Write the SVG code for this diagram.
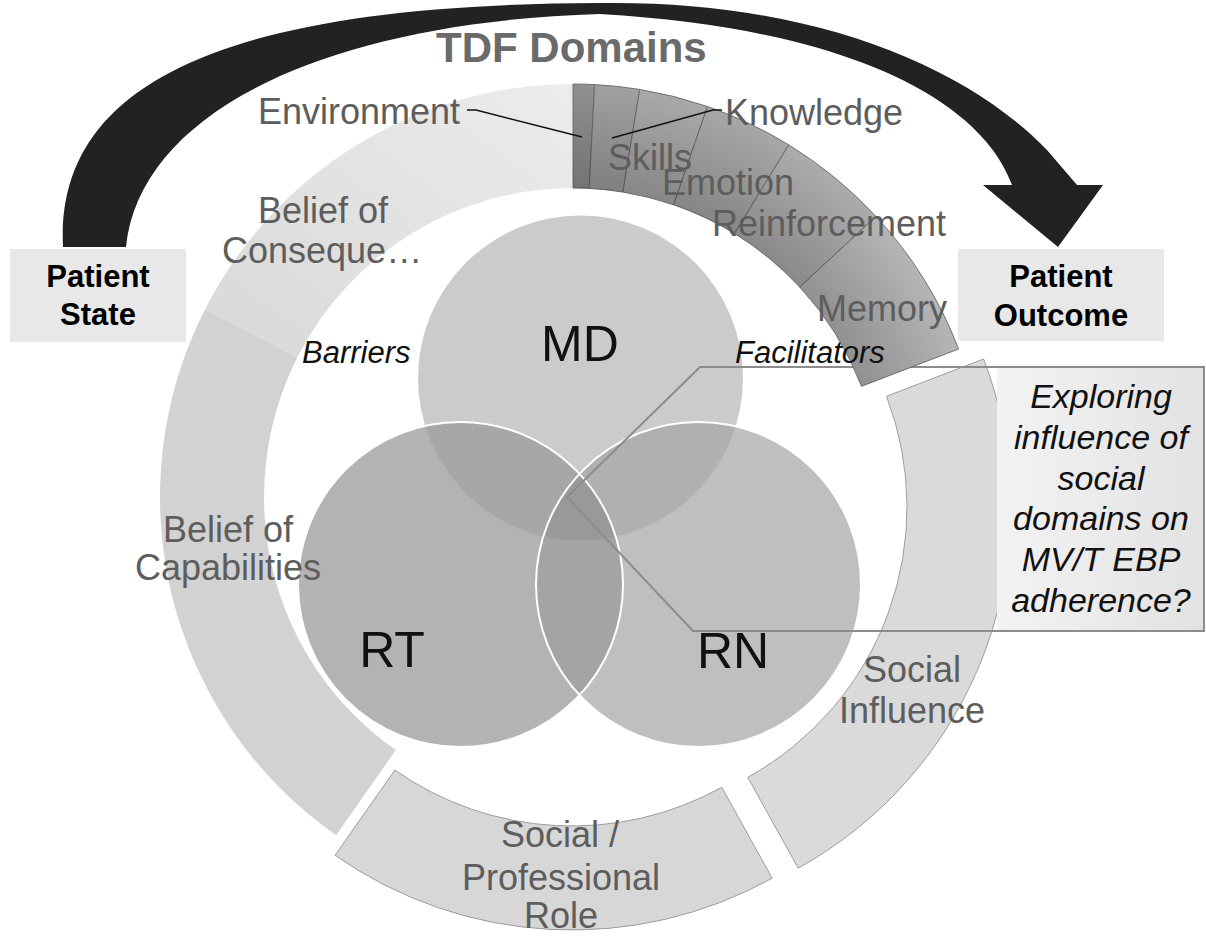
<svg xmlns="http://www.w3.org/2000/svg" width="1206" height="940" viewBox="0 0 1206 940">
<style>
.lbl{font-family:"Liberation Sans",Arial,sans-serif;font-size:36px;fill:#5d5d5d}
.big{font-family:"Liberation Sans",Arial,sans-serif;font-size:50px;fill:#111}
.it{font-family:"Liberation Sans",Arial,sans-serif;font-size:31px;font-style:italic;fill:#111}
.co{font-family:"Liberation Sans",Arial,sans-serif;font-size:34px;font-style:italic;fill:#111;text-anchor:middle}
.pb{font-family:"Liberation Sans",Arial,sans-serif;font-size:31px;font-weight:bold;fill:#000;text-anchor:middle}
.pbox{fill:#e8e8e8}
.seg{stroke:#9c9c9c;stroke-width:1}
.dk{stroke:#666;stroke-width:0.9}
.lead{stroke:#111;stroke-width:1.5;fill:none}
</style>
<defs>
<radialGradient id="shade" gradientUnits="userSpaceOnUse" cx="573" cy="497" r="413">
<stop offset="0.748" stop-color="#000" stop-opacity="0.2"/>
<stop offset="1" stop-color="#000" stop-opacity="0"/>
</radialGradient>
<linearGradient id="bco" x1="0" y1="1" x2="1" y2="0">
<stop offset="0" stop-color="#d8d8d8"/>
<stop offset="1" stop-color="#ececec"/>
</linearGradient>
<linearGradient id="cbox" x1="0" y1="0" x2="1" y2="0">
<stop offset="0" stop-color="#f3f3f3"/>
<stop offset="1" stop-color="#e2e2e2"/>
</linearGradient>
<clipPath id="cRT"><circle cx="460.5" cy="584.5" r="162.5"/></clipPath>
<clipPath id="cRN"><circle cx="698.5" cy="584.5" r="162.5"/></clipPath>
</defs>
<rect width="1206" height="940" fill="#fff"/>

<g id="arrow">
<path d="M 63,247 C 55,80 230,4 600,3 C 800,0 960,60 1047,150 L 1077,185 L 1103,185 L 1058,247 L 983,185 L 1012,185 C 985,110 870,30 600,14 C 330,22 140,110 126,247 Z" fill="#222"/>
</g>

<g id="patient-state">
<rect class="pbox" x="10" y="249" width="176" height="93"/>
<text class="pb" x="98" y="287">Patient</text>
<text class="pb" x="98" y="325">State</text>
</g>
<g id="patient-outcome">
<rect class="pbox" x="958" y="249" width="206" height="92"/>
<text class="pb" x="1061" y="287">Patient</text>
<text class="pb" x="1061" y="326">Outcome</text>
</g>

<g id="title"><text x="436" y="62" style="font-family:'Liberation Sans',Arial,sans-serif;font-size:42px;font-weight:bold;fill:#6a6a6a">TDF Domains</text></g>

<g id="seg-belief-capabilities">
<path d="M 336.1,835.3 A 413 413 0 0 1 205.0,309.5 L 297.7,356.7 A 309 309 0 0 0 395.8,750.1 Z" fill="#d2d2d2"/>
</g>
<g id="seg-belief-consequences">
<path d="M 205.0,309.5 A 413 413 0 0 1 573,84 L 573,188 A 309 309 0 0 0 297.7,356.7 Z" fill="url(#bco)"/>
</g>
<g id="seg-social-professional" transform="translate(-1,20)">
<path class="seg" d="M 773.2,858.2 A 413 413 0 0 1 336.1,835.3 L 395.8,750.1 A 309 309 0 0 0 722.8,767.3 Z" fill="#d7d7d7"/>
</g>
<g id="seg-social-influence" transform="translate(25,10)">
<path class="seg" d="M 958.6,349.0 A 413 413 0 0 1 773.2,858.2 L 722.8,767.3 A 309 309 0 0 0 861.5,386.3 Z" fill="#dadada"/>
</g>

<g id="node-md"><circle cx="580.5" cy="378" r="162.5" fill="#cbcbcb"/></g>
<g id="node-rt"><circle cx="460.5" cy="584.5" r="162.5" fill="#b3b3b3"/></g>
<g id="node-rn"><circle cx="698.5" cy="584.5" r="162.5" fill="#bfbfbf"/></g>
<g id="overlaps">
<circle cx="580.5" cy="378" r="162.5" fill="#a7a7a7" clip-path="url(#cRT)"/>
<circle cx="580.5" cy="378" r="162.5" fill="#b0b0b0" clip-path="url(#cRN)"/>
<circle cx="460.5" cy="584.5" r="162.5" fill="#a4a4a4" clip-path="url(#cRN)"/>
<g clip-path="url(#cRN)"><circle cx="580.5" cy="378" r="162.5" fill="#999" clip-path="url(#cRT)"/></g>
<circle cx="698.5" cy="584.5" r="162.5" fill="none" stroke="#fff" stroke-width="2"/>
<circle cx="460.5" cy="584.5" r="162.5" fill="none" stroke="#fff" stroke-width="2"/>
</g>

<g id="callout">
<rect x="997" y="367" width="207" height="264" fill="url(#cbox)"/>
<path d="M 1204,367 L 700,367 L 567,497 L 693,631 L 1204,631 Z" fill="none" stroke="#8c8c8c" stroke-width="2" stroke-linejoin="miter"/>
<text class="co" x="1101" y="408">Exploring</text>
<text class="co" x="1101" y="449">influence of</text>
<text class="co" x="1101" y="490">social</text>
<text class="co" x="1101" y="530">domains on</text>
<text class="co" x="1101" y="571">MV/T EBP</text>
<text class="co" x="1101" y="612">adherence?</text>
</g>

<g id="seg-environment"><path class="dk" d="M 573,84 A 413 413 0 0 1 594.6,84.6 L 589.2,188.4 A 309 309 0 0 0 573,188 Z" fill="#909090"/></g>
<g id="seg-knowledge"><path class="dk" d="M 594.6,84.6 A 413 413 0 0 1 639.7,89.4 L 622.9,192.1 A 309 309 0 0 0 589.2,188.4 Z" fill="#a0a0a0"/></g>
<g id="seg-skills"><path class="dk" d="M 639.7,89.4 A 413 413 0 0 1 707.5,106.5 L 673.6,204.8 A 309 309 0 0 0 622.9,192.1 Z" fill="#a9a9a9"/></g>
<g id="seg-emotion"><path class="dk" d="M 707.5,106.5 A 413 413 0 0 1 788.8,144.9 L 734.5,233.5 A 309 309 0 0 0 673.6,204.8 Z" fill="#a7a7a7"/></g>
<g id="seg-reinforcement"><path class="dk" d="M 788.8,144.9 A 413 413 0 0 1 876.0,216.4 L 799.7,287.1 A 309 309 0 0 0 734.5,233.5 Z" fill="#acacac"/></g>
<g id="seg-memory"><path class="dk" d="M 876.0,216.4 A 413 413 0 0 1 958.6,349.0 L 861.5,386.3 A 309 309 0 0 0 799.7,287.1 Z" fill="#b5b5b5"/></g>
<path d="M 573,84 A 413 413 0 0 1 958.6,349 L 861.5,386.3 A 309 309 0 0 0 573,188 Z" fill="url(#shade)"/>

<g id="connectors">
<polyline class="lead" points="467,110 476,110 582,137"/>
<polyline class="lead" points="722,110 713,110 612,138"/>
</g>

<g id="labels">
<text class="lbl" x="258" y="124">Environment</text>
<text class="lbl" x="725" y="125">Knowledge</text>
<text class="lbl" x="608" y="170">Skills</text>
<text class="lbl" x="662" y="195">Emotion</text>
<text class="lbl" x="712" y="236">Reinforcement</text>
<text class="lbl" x="817" y="321">Memory</text>
<text class="lbl" x="258" y="223">Belief of</text>
<text class="lbl" x="222" y="263">Conseque…</text>
<text class="lbl" x="228" y="542" text-anchor="middle">Belief of</text>
<text class="lbl" x="228" y="580" text-anchor="middle">Capabilities</text>
<text class="lbl" x="912" y="682" text-anchor="middle">Social</text>
<text class="lbl" x="912" y="723" text-anchor="middle">Influence</text>
<text class="lbl" x="560" y="847" text-anchor="middle">Social /</text>
<text class="lbl" x="561" y="890" text-anchor="middle">Professional</text>
<text class="lbl" x="561" y="928" text-anchor="middle">Role</text>
<text class="big" x="580" y="361" text-anchor="middle">MD</text>
<text class="big" x="392" y="667" text-anchor="middle">RT</text>
<text class="big" x="733" y="668" text-anchor="middle">RN</text>
<text class="it" x="302" y="363">Barriers</text>
<text class="it" x="735" y="363">Facilitators</text>
</g>
</svg>
